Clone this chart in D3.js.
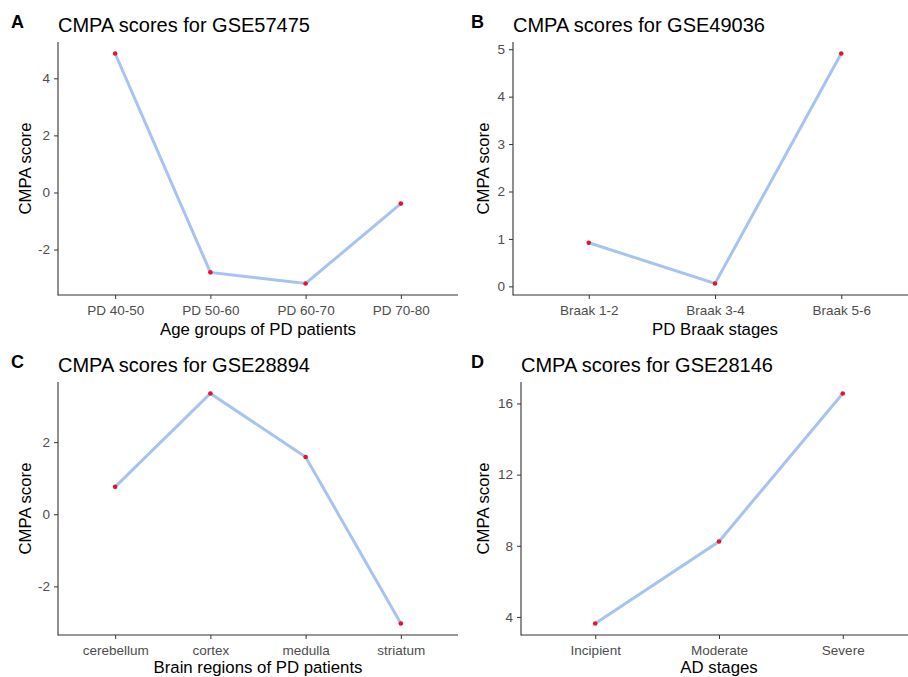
<!DOCTYPE html>
<html>
<head>
<meta charset="utf-8">
<script src="https://cdn.jsdelivr.net/npm/d3@7"></script>
<style>
  body { margin: 0; background: #fff; }
  svg text { font-family: "Liberation Sans", Arial, sans-serif; }
</style>
</head>
<body>
<svg id="fig" width="908" height="677"></svg>
<script>
// ---- data ----
var agesCats = ["PD 40-50", "PD 50-60", "PD 60-70", "PD 70-80"];
var agesVals = [4.87, -2.80, -3.19, -0.39];
var agesTicks = [-2, 0, 2, 4];

var braakCats = ["Braak 1-2", "Braak 3-4", "Braak 5-6"];
var braakVals = [0.92, 0.06, 4.91];
var braakTicks = [0, 1, 2, 3, 4, 5];

var regionCats = ["cerebellum", "cortex", "medulla", "striatum"];
var regionVals = [0.76, 3.35, 1.59, -3.03];
var regionTicks = [-2, 0, 2];

var adCats = ["Incipient", "Moderate", "Severe"];
var adVals = [3.63, 8.24, 16.56];
var adTicks = [4, 8, 12, 16];

var lineColor = "#a6c3f2",
    dotColor = "#e8132b",
    axisColor = "#333333",
    tickText = "#4d4d4d";

var H = 677;
var svg = d3.select("#fig");

// ggplot-like discrete x scale: 0.6 of a step of padding on each side
function discreteX(cats, x0, x1) {
  var n = cats.length;
  var step = (x1 - x0) / (n - 1 + 1.2);
  return d3.scalePoint().domain(cats).range([x0 + 0.6 * step, x1 - 0.6 * step]);
}

function drawPanel(p) {
  var g = svg.append("g");

  var x = discreteX(p.cats, p.left, p.right);
  var ext = d3.extent(p.vals);
  var pad = (ext[1] - ext[0]) * 0.05;
  var y = d3.scaleLinear().domain([ext[0] - pad, ext[1] + pad]).range([p.bottom, p.top]);

  // panel letter + title
  g.append("text")
    .attr("x", p.letterX).attr("y", p.top - 14)
    .attr("font-size", 18).attr("font-weight", "bold")
    .text(p.letter);
  g.append("text")
    .attr("x", p.left).attr("y", p.top - 10.5)
    .attr("font-size", 20)
    .text(p.title);

  // axes (plain hyphen for negatives, like R)
  var yAxis = d3.axisLeft(y).tickValues(p.ticks).tickSize(4).tickPadding(4)
    .tickFormat(function(d) { return String(d); });
  var yg = g.append("g").attr("transform", "translate(" + p.left + ",0)").call(yAxis);
  var xAxis = d3.axisBottom(x).tickSize(4).tickPadding(6);
  var xg = g.append("g").attr("transform", "translate(0," + p.bottom + ")").call(xAxis);

  [yg, xg].forEach(function(a) {
    a.select(".domain").remove();
    a.selectAll(".tick line").attr("stroke", axisColor);
    a.selectAll(".tick text").attr("fill", tickText).attr("font-size", 13.5)
      .attr("font-family", "Liberation Sans, Arial, sans-serif");
  });
  // axis lines, plain, no end ticks
  g.append("line").attr("x1", p.left).attr("x2", p.left).attr("y1", p.top).attr("y2", p.bottom + 0.5)
    .attr("stroke", axisColor).attr("stroke-width", 1.1);
  g.append("line").attr("x1", p.left).attr("x2", p.right).attr("y1", p.bottom).attr("y2", p.bottom)
    .attr("stroke", axisColor).attr("stroke-width", 1.1);

  // axis titles (bottom row kept just inside the page)
  g.append("text")
    .attr("x", (p.left + p.right) / 2).attr("y", Math.min(p.bottom + 40, H - 4.5))
    .attr("text-anchor", "middle").attr("font-size", 16.8)
    .text(p.xTitle);
  g.append("text")
    .attr("transform", "translate(" + p.yTitleX + "," + ((p.top + p.bottom) / 2) + ") rotate(-90)")
    .attr("text-anchor", "middle").attr("font-size", 16.8)
    .text("CMPA score");

  // line + points
  var pts = p.cats.map(function(c, i) { return [c, p.vals[i]]; });
  g.append("path")
    .datum(pts)
    .attr("fill", "none")
    .attr("stroke", lineColor)
    .attr("stroke-width", 3)
    .attr("d", d3.line().x(function(d) { return x(d[0]); }).y(function(d) { return y(d[1]); }));
  g.selectAll("circle.pt").data(pts).enter().append("circle")
    .attr("class", "pt")
    .attr("cx", function(d) { return x(d[0]); })
    .attr("cy", function(d) { return y(d[1]); })
    .attr("r", 2.3)
    .attr("fill", dotColor);
}

drawPanel({ letter: "A", title: "CMPA scores for GSE57475", cats: agesCats, vals: agesVals, ticks: agesTicks,
  xTitle: "Age groups of PD patients", left: 58, right: 458, top: 42, bottom: 295, letterX: 11, yTitleX: 31 });
drawPanel({ letter: "B", title: "CMPA scores for GSE49036", cats: braakCats, vals: braakVals, ticks: braakTicks,
  xTitle: "PD Braak stages", left: 513, right: 917, top: 42, bottom: 295, letterX: 471, yTitleX: 489 });
drawPanel({ letter: "C", title: "CMPA scores for GSE28894", cats: regionCats, vals: regionVals, ticks: regionTicks,
  xTitle: "Brain regions of PD patients", left: 58, right: 458, top: 382, bottom: 635, letterX: 11, yTitleX: 31 });
drawPanel({ letter: "D", title: "CMPA scores for GSE28146", cats: adCats, vals: adVals, ticks: adTicks,
  xTitle: "AD stages", left: 521, right: 917, top: 382, bottom: 635, letterX: 471, yTitleX: 489 });
</script>
</body>
</html>
